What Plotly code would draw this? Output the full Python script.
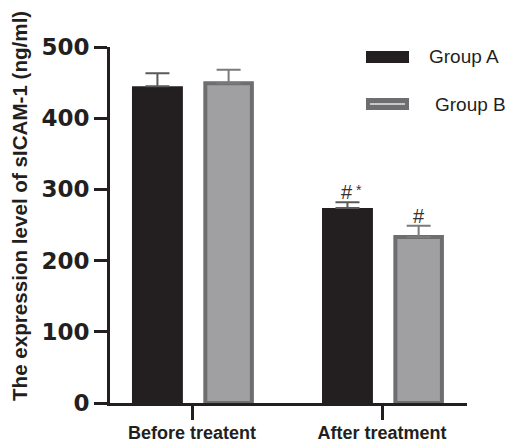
import plotly.graph_objects as go

categories = ["Before treatent", "After treatment"]
group_a = [445, 274]
group_a_err = [18, 8]
group_b = [449, 233]
group_b_err = [19, 16]
group_a_marks = ["", "#"]
group_b_marks = ["", "#"]
group_a_star = ["", "*"]
y_ticks = [0, 100, 200, 300, 400, 500]

W, H = 505, 443
L, R, T, B = 110, 38, 47, 40
PW, PH = W - L - R, H - T - B

def px(x):
    return (x - L) / PW

def py(y):
    return (H - B - y) / PH

dark = "#231f20"
b_fill = "#a0a0a3"
b_line = "#6e6e70"
FONT = "Arial, Liberation Sans, sans-serif"
WIDE = "DejaVu Sans, Arial, sans-serif"

xpos = list(range(len(categories)))
wA, offA = 0.268, -0.316
wB, offB = 0.245, 0.070

fig = go.Figure()
fig.add_trace(go.Bar(
    x=xpos, y=group_a, width=wA, offset=offA, name="Group A",
    marker=dict(color=dark, line=dict(color=dark, width=0)),
    error_y=dict(type="data", array=group_a_err, arrayminus=[0]*len(group_a), symmetric=False,
                 color="#5a5a5a", thickness=2, width=12),
    showlegend=False))
fig.add_trace(go.Bar(
    x=xpos, y=group_b, width=wB, offset=offB, name="Group B",
    marker=dict(color=b_fill, line=dict(color=b_line, width=4)),
    error_y=dict(type="data", array=group_b_err, arrayminus=[0]*len(group_b), symmetric=False,
                 color="#7a7a7a", thickness=2, width=12),
    showlegend=False))

annotations = []
for i in xpos:
    if group_a_marks[i]:
        annotations.append(dict(x=i + offA + wA / 2, y=group_a[i] + group_a_err[i], xref="x", yref="y",
                                text=group_a_marks[i], showarrow=False, yanchor="bottom", yshift=-3,
                                font=dict(family=FONT, size=20, color="#333")))
    if group_a_star[i]:
        annotations.append(dict(x=i + offA + wA / 2, y=group_a[i] + group_a_err[i], xref="x", yref="y",
                                text=group_a_star[i], showarrow=False, yanchor="bottom", yshift=2, xshift=12,
                                font=dict(family=FONT, size=14, color="#333")))
    if group_b_marks[i]:
        annotations.append(dict(x=i + offB + wB / 2, y=group_b[i] + group_b_err[i], xref="x", yref="y",
                                text=group_b_marks[i], showarrow=False, yanchor="bottom", yshift=-3,
                                font=dict(family=FONT, size=20, color="#333")))

# y-axis title
annotations.append(dict(x=px(19), y=py(206), xref="paper", yref="paper",
                        text="<b>The expression level of sICAM-1 (ng/ml)</b>",
                        textangle=-90, showarrow=False, font=dict(family=FONT, size=20.6, color=dark),
                        xanchor="center", yanchor="middle"))
# legend texts
annotations.append(dict(x=px(427), y=py(57), xref="paper", yref="paper", text="Group A", showarrow=False,
                        xanchor="left", yanchor="middle", font=dict(family=FONT, size=19, color=dark)))
annotations.append(dict(x=px(433), y=py(104), xref="paper", yref="paper", text="Group B", showarrow=False,
                        xanchor="left", yanchor="middle", font=dict(family=FONT, size=19, color=dark)))

shapes = [
    dict(type="rect", xref="paper", yref="paper", x0=px(366), x1=px(409), y0=py(63), y1=py(51),
         fillcolor=dark, line=dict(width=0)),
    dict(type="rect", xref="paper", yref="paper", x0=px(367), x1=px(408), y0=py(109), y1=py(99),
         fillcolor=b_line, line=dict(color=b_line, width=2)),
    dict(type="line", xref="paper", yref="paper", x0=px(370), x1=px(405), y0=py(104), y1=py(104),
         line=dict(color="#c8c8ca", width=2)),
]

fig.update_layout(
    width=W, height=H, margin=dict(l=L, r=R, t=T, b=B),
    paper_bgcolor="white", plot_bgcolor="white",
    barmode="overlay",
    annotations=annotations, shapes=shapes,
    font=dict(family=FONT, color=dark),
    xaxis=dict(range=[-0.4316, 1.447], tickvals=xpos, ticktext=[f"<b>{c}</b>" for c in categories],
               showline=True, linecolor=dark, linewidth=3, ticks="outside", ticklen=14, tickwidth=3,
               tickcolor=dark, showgrid=False, zeroline=False, tickfont=dict(size=18, color=dark),
               ticklabelstandoff=-3, automargin=False),
    yaxis=dict(range=[0, 500], tickvals=y_ticks, ticktext=[f"<b>{v}</b>" for v in y_ticks],
               showline=True, linecolor=dark, linewidth=3, ticks="outside", ticklen=13, tickwidth=3,
               tickcolor=dark, showgrid=False, zeroline=False, tickfont=dict(family=WIDE, size=23, color=dark),
               automargin=False),
)

fig.write_html("out.html")
